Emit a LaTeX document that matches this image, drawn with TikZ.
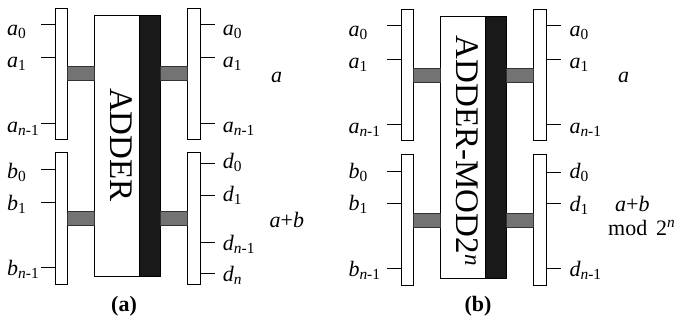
\documentclass[tikz,border=0pt]{standalone}
\usepackage{fontspec}
\setmainfont{Liberation Serif}
\usetikzlibrary{calc}
\tikzset{
  bar/.style={draw, fill=white, line width=0.9pt, minimum width=12.7pt, minimum height=130.7pt, inner sep=0pt, outer sep=0pt},
  mainbox/.style={draw, fill=white, line width=0.9pt, minimum width=66pt, minimum height=261.7pt, inner sep=0pt, outer sep=0pt},
  blackbar/.style={draw, fill=black!90, line width=0.9pt, minimum width=20.7pt, minimum height=261.7pt, inner sep=0pt, outer sep=0pt},
  conn/.style={draw=black!80, fill=black!55, line width=0.7pt},
  tickline/.style={line width=0.9pt},
  lbl/.style={font=\fontsize{22}{26}\selectfont, anchor=base west, inner sep=0pt},
  boxtext/.style={font=\fontsize{33}{36}\selectfont, rotate=-90, anchor=base, inner sep=0pt},
  captext/.style={font=\fontsize{22}{26}\selectfont\bfseries, anchor=base, inner sep=0pt}
}
\newcommand\drawpanel{%
  \node[bar] (lu) at (61.35,73.65) {};
  \node[bar, minimum height=131.6pt] (ll) at (61.35,218.5) {};
  \node[bar] (ru) at (194,73.65) {};
  \node[bar, minimum height=131.6pt] (rl) at (194,218.5) {};
  \node[mainbox] (main) at (127,145.85) {};
  \node[blackbar] (blk) at (149.65,145.85) {};
  \path[conn] ($(lu.east)+(0,7)$) rectangle ($(main.west |- lu.east)+(0,-7)$);
  \path[conn] ($(ll.east)+(0,7)$) rectangle ($(main.west |- ll.east)+(0,-7)$);
  \path[conn] ($(ru.west)+(0,7)$) rectangle ($(main.east |- ru.west)+(0,-7)$);
  \path[conn] ($(rl.west)+(0,7)$) rectangle ($(main.east |- rl.west)+(0,-7)$);
}
\newcommand\ital[1]{\textit{#1}}
\begin{document}
\begin{tikzpicture}[x=1pt, y=-1pt]
\useasboundingbox (0,0) rectangle (680,324);
% ---------- panel (a)
\begin{scope}[name prefix=a-]
  \drawpanel
  \node[boxtext] (txt) at (110,145) {ADDER};
\end{scope}
\foreach \y/\b/\nm/\t in {24.7/35/la0/{\ital{a}\textsubscript{0}},
                          57.7/67/la1/{\ital{a}\textsubscript{1}},
                          123.3/132/lan/{\ital{a}\textsubscript{\ital{n}-1}}}{
  \coordinate (a-t\nm) at (41,\y);
  \draw[tickline] (a-lu.west |- a-t\nm) -- (a-t\nm);
  \node[lbl] (a-\nm) at (7,\b) {\t};
}
\foreach \y/\b/\nm/\t in {169.3/178/lb0/{\ital{b}\textsubscript{0}},
                          202/210/lb1/{\ital{b}\textsubscript{1}},
                          267.3/275/lbn/{\ital{b}\textsubscript{\ital{n}-1}}}{
  \coordinate (a-t\nm) at (41,\y);
  \draw[tickline] (a-ll.west |- a-t\nm) -- (a-t\nm);
  \node[lbl] (a-\nm) at (7,\b) {\t};
}
\foreach \y/\b/\nm/\t in {24.7/35/ra0/{\ital{a}\textsubscript{0}},
                          57.7/67/ra1/{\ital{a}\textsubscript{1}},
                          123.3/132.5/ran/{\ital{a}\textsubscript{\ital{n}-1}}}{
  \coordinate (a-t\nm) at (215,\y);
  \draw[tickline] (a-ru.east |- a-t\nm) -- (a-t\nm);
  \node[lbl] (a-\nm) at (222.7,\b) {\t};
}
\foreach \y/\b/\nm/\t in {163.3/168.3/rd0/{\ital{d}\textsubscript{0}},
                          195/201.7/rd1/{\ital{d}\textsubscript{1}},
                          242.7/250/rdn/{\ital{d}\textsubscript{\ital{n}-1}},
                          273.3/281.5/rdm/{\ital{d}\textsubscript{\ital{n}}}}{
  \coordinate (a-t\nm) at (215,\y);
  \draw[tickline] (a-rl.east |- a-t\nm) -- (a-t\nm);
  \node[lbl] (a-\nm) at (222.7,\b) {\t};
}
\node[lbl] (a-sa) at (271,82) {\ital{a}};
\node[lbl] (a-sab) at (269.5,227) {\ital{a}+\ital{b}};
\node[captext] (a-cap) at (124,311) {(a)};
% ---------- panel (b)
\begin{scope}[shift={(346,1.5)}, name prefix=b-]
  \drawpanel
  \node[boxtext] (txt) at (110,149.5) {ADDER-MOD2\textsuperscript{\ital{n}}};
\end{scope}
\foreach \y/\b/\nm/\t in {25.5/36.7/la0/{\ital{a}\textsubscript{0}},
                          59/68.3/la1/{\ital{a}\textsubscript{1}},
                          124.3/133.3/lan/{\ital{a}\textsubscript{\ital{n}-1}}}{
  \coordinate (b-t\nm) at (387,\y);
  \draw[tickline] (b-lu.west |- b-t\nm) -- (b-t\nm);
  \node[lbl] (b-\nm) at (348.3,\b) {\t};
}
\foreach \y/\b/\nm/\t in {171/178.3/lb0/{\ital{b}\textsubscript{0}},
                          203/210/lb1/{\ital{b}\textsubscript{1}},
                          268/276/lbn/{\ital{b}\textsubscript{\ital{n}-1}}}{
  \coordinate (b-t\nm) at (387,\y);
  \draw[tickline] (b-ll.west |- b-t\nm) -- (b-t\nm);
  \node[lbl] (b-\nm) at (348.3,\b) {\t};
}
\foreach \y/\b/\nm/\t in {25.5/36.7/ra0/{\ital{a}\textsubscript{0}},
                          59/68.3/ra1/{\ital{a}\textsubscript{1}},
                          124.3/133.3/ran/{\ital{a}\textsubscript{\ital{n}-1}}}{
  \coordinate (b-t\nm) at (561,\y);
  \draw[tickline] (b-ru.east |- b-t\nm) -- (b-t\nm);
  \node[lbl] (b-\nm) at (569.3,\b) {\t};
}
\foreach \y/\b/\nm/\t in {172/178.3/rd0/{\ital{d}\textsubscript{0}},
                          203/211.7/rd1/{\ital{d}\textsubscript{1}},
                          268/276/rdn/{\ital{d}\textsubscript{\ital{n}-1}}}{
  \coordinate (b-t\nm) at (561,\y);
  \draw[tickline] (b-rl.east |- b-t\nm) -- (b-t\nm);
  \node[lbl] (b-\nm) at (569.3,\b) {\t};
}
\node[lbl] (b-sa) at (618,82) {\ital{a}};
\node[lbl] (b-sab) at (615,211.7) {\ital{a}+\ital{b}};
\node[lbl] (b-mod) at (608,235) {mod\hspace{0.4em}2\textsuperscript{\ital{n}}};
\node[captext] (b-cap) at (478,311) {(b)};
\end{tikzpicture}
\end{document}
